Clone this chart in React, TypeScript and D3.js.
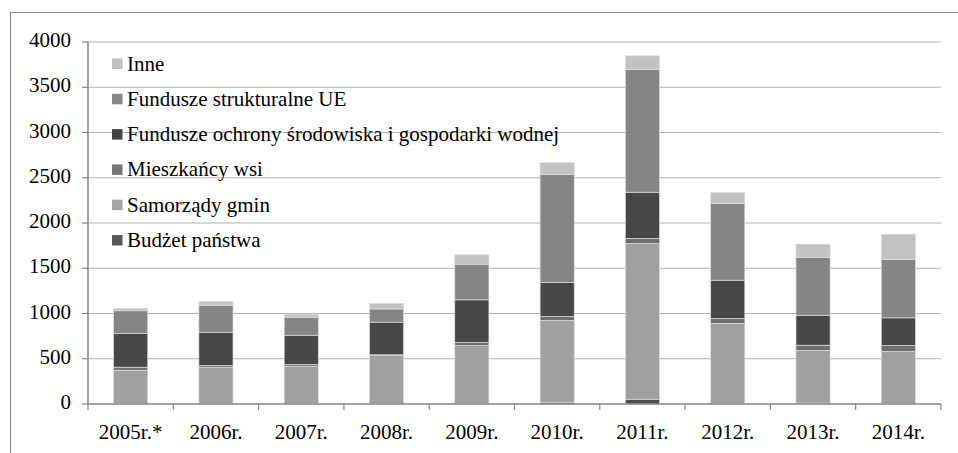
import React from "react";
import * as d3 from "d3";

const years = ["2005r.*", "2006r.", "2007r.", "2008r.", "2009r.", "2010r.", "2011r.", "2012r.", "2013r.", "2014r."];

// stacked from the bottom up
const budzetPanstwa = [5, 5, 5, 5, 5, 20, 53, 5, 10, 5];
const samorzadyGmin = [368, 402, 413, 531, 641, 903, 1720, 885, 581, 575];
const mieszkancyWsi = [34, 18, 18, 8, 34, 44, 56, 55, 59, 66];
const funduszeOchrony = [372, 368, 324, 360, 471, 376, 511, 423, 331, 306];
const funduszeUE = [251, 299, 199, 146, 394, 1193, 1356, 847, 638, 645];
const inne = [25, 41, 33, 60, 104, 133, 151, 122, 147, 279];

const yTicks = [0, 500, 1000, 1500, 2000, 2500, 3000, 3500, 4000];

const series = [
  { name: "Budżet państwa", values: budzetPanstwa, color: "#4d4d4d", legend: "#595959" },
  { name: "Samorządy gmin", values: samorzadyGmin, color: "#a0a0a0", legend: "#a5a5a5" },
  { name: "Mieszkańcy wsi", values: mieszkancyWsi, color: "#6e6e6e", legend: "#777777" },
  { name: "Fundusze ochrony środowiska i gospodarki wodnej", values: funduszeOchrony, color: "#474747", legend: "#444444" },
  { name: "Fundusze strukturalne UE", values: funduszeUE, color: "#858585", legend: "#868686" },
  { name: "Inne", values: inne, color: "#c2c2c2", legend: "#c0c0c0" },
];

const W = 958;
const H = 453;
const left = 88;
const right = 941;
const top = 42;
const bottom = 404;
const font = "Liberation Serif, Times New Roman, DejaVu Serif, serif";

export default function App() {
  const x = d3.scaleBand().domain(years).range([left, right]).paddingInner(0.6).paddingOuter(0.3);
  const y = d3.scaleLinear().domain([0, 4000]).range([bottom, top]);

  const table = years.map((yr, i) => {
    const row: any = { year: yr };
    series.forEach((s) => (row[s.name] = s.values[i]));
    return row;
  });
  const stacked = d3.stack().keys(series.map((s) => s.name))(table);

  const step = x.step();
  const bounds = d3.range(years.length + 1).map((i) => left + i * step);

  const legendRows = series.slice().reverse();
  const txt = { fontFamily: font, fontSize: 21 };

  return (
    <svg width={W} height={H} style={{ position: "absolute", left: 0, top: 0, background: "#fff" }}>
      {/* frame */}
      <path d={`M10.5,${H} V12.5 H${W}`} fill="none" stroke="#8c8c8c" strokeWidth={1.2} />

      {/* grid */}
      {yTicks.slice(1).map((t) => (
        <line key={t} x1={left} x2={right} y1={y(t)} y2={y(t)} stroke="#b3b3b3" strokeWidth={1.2} />
      ))}

      {/* bars */}
      {stacked.map((layer, si) => (
        <g key={layer.key} fill={series[si].color}>
          {layer.map((d, i) => (
            <rect
              key={i}
              x={x(years[i])}
              width={x.bandwidth()}
              y={y(d[1])}
              height={Math.max(0, y(d[0]) - y(d[1]))}
              stroke="#dcdcdc"
              strokeWidth={0.7}
            />
          ))}
        </g>
      ))}

      {/* axes */}
      <line x1={left} x2={left} y1={top} y2={bottom} stroke="#868686" strokeWidth={1.5} />
      <line x1={left} x2={right} y1={bottom} y2={bottom} stroke="#868686" strokeWidth={1.5} />
      {yTicks.map((t) => (
        <g key={t}>
          <line x1={left - 6} x2={left} y1={y(t)} y2={y(t)} stroke="#868686" strokeWidth={1.2} />
          <text x={71} y={y(t) + 5} textAnchor="end" style={txt} fill="#000">
            {t}
          </text>
        </g>
      ))}
      {bounds.map((b, i) => (
        <line key={i} x1={b} x2={b} y1={bottom} y2={bottom + 6} stroke="#868686" strokeWidth={1.2} />
      ))}
      {years.map((yr) => (
        <text key={yr} x={x(yr)! + x.bandwidth() / 2} y={439} textAnchor="middle" style={txt} fill="#000">
          {yr}
        </text>
      ))}

      {/* legend */}
      {legendRows.map((s, i) => {
        const cy = 63.5 + i * 35.3;
        return (
          <g key={s.name}>
            <rect x={112} y={cy - 5} width={10.5} height={10.5} fill={s.legend} />
            <text x={127} y={cy + 7} style={txt} fill="#000">
              {s.name}
            </text>
          </g>
        );
      })}
    </svg>
  );
}
